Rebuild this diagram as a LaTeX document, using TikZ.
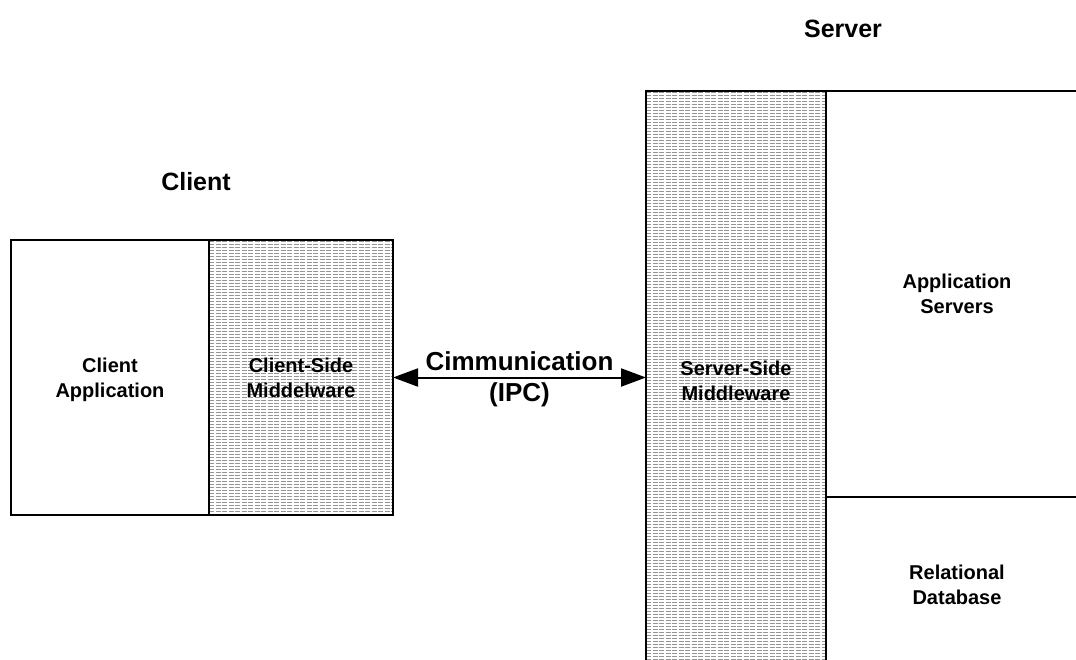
\documentclass[tikz,border=0pt]{standalone}
\usepackage{fontspec}
\setmainfont{Liberation Sans}
\usetikzlibrary{arrows.meta}
\begin{document}
\begin{tikzpicture}[x=1pt,y=-1pt,
  box/.style={draw=black, line width=1.5pt, inner sep=0pt, outer sep=0pt,
    anchor=north west, align=center, font=\fontsize{20}{25}\bfseries,
    text depth=0pt},
  hatchline/.style={draw=black!42, line width=1pt, dash pattern=on 5pt off 1.5pt},
  hatched/.style={path picture={
    \foreach \k [evaluate=\k as \yy using 3*\k-1.5] in {1,...,200}
      \draw[hatchline] ([yshift=-\yy pt]path picture bounding box.north west)
        -- ([yshift=-\yy pt]path picture bounding box.north east);}},
  head/.style={font=\fontsize{25}{30}\bfseries},
  link/.style={line width=2pt,
    {Triangle[length=25pt,width=18pt]}-{Triangle[length=25pt,width=18pt]}}]
\useasboundingbox (0,0) rectangle (1076,660);

% client side
\node[head] (clilabel) at (196,182) {Client};
\node[box, minimum width=198pt, minimum height=275pt] (capp) at (11,240) {Client\\Application};
\node[box, hatched, minimum width=184pt, minimum height=275pt] (cmw) at (209,240) {Client-Side\\Middelware};

% server side
\node[head] (srvlabel) at (843,29) {Server};
\node[box, hatched, minimum width=180pt, minimum height=580pt] (smw) at (646,91) {Server-Side\\Middleware};
\node[box, minimum width=262pt, minimum height=406pt] (appsrv) at (826,91) {Application\\Servers};
\node[box, minimum width=262pt, minimum height=175pt] (rdb) at (826,497) {Relational\\Database};

% inter-process link
\draw[link] (cmw.east) -- (cmw.east -| smw.west)
  node[midway, yshift=-2pt, font=\fontsize{26}{31}\bfseries, align=center] (ipc) {Cimmunication\\(IPC)};
\end{tikzpicture}
\end{document}
